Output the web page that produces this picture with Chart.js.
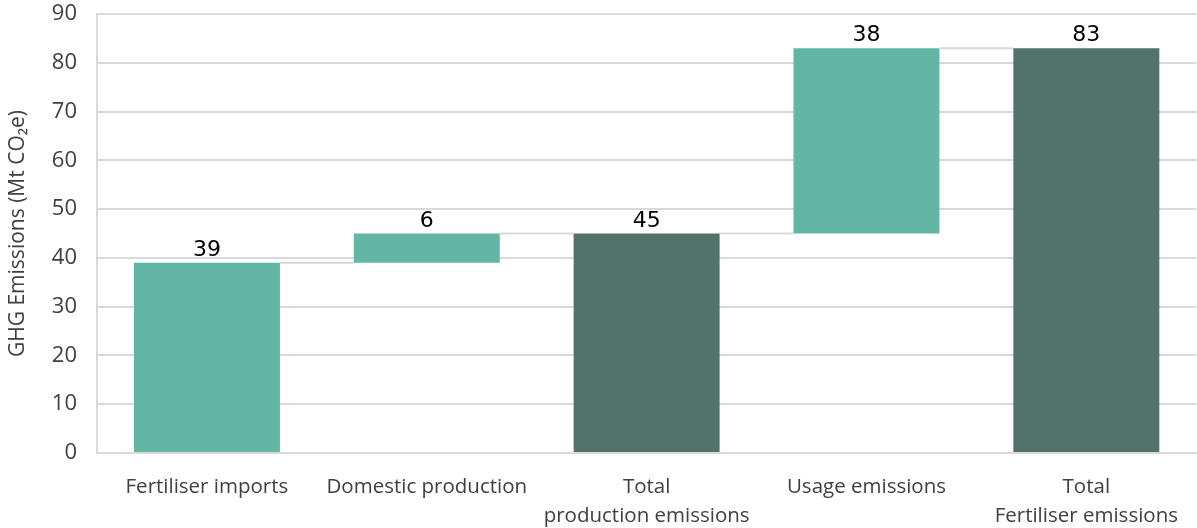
<!DOCTYPE html>
<html>
<head>
<meta charset="utf-8">
<script src="https://cdn.jsdelivr.net/npm/chart.js@4/dist/chart.umd.min.js"></script>
<style>
  html, body { margin: 0; padding: 0; background: #ffffff; }
  #wrap { width: 1197px; height: 528px; }
</style>
</head>
<body>
<div id="wrap"><canvas id="waterfall" width="1197" height="528"></canvas></div>
<script>
const categories = [
  ["Fertiliser imports"],
  ["Domestic production"],
  ["Total", "production emissions"],
  ["Usage emissions"],
  ["Total", "Fertiliser emissions"],
];
// floating bar ranges: where each bar starts and ends
const barStart = [0, 39, 0, 45, 0];
const barEnd = [39, 45, 45, 83, 83];
const isTotal = [false, false, true, false, true];
const yMin = 0;
const yMax = 90;
const yStep = 10;

const stepColor = "#62b6a4";
const totalColor = "#52736c";
const gridColor = "#d9d9d9";
const textColor = "#404040";

// thin grey lines joining the top of one bar to the next
const connectorPlugin = {
  id: "connectors",
  beforeDatasetsDraw(chart) {
    const meta = chart.getDatasetMeta(0);
    const y = chart.scales.y;
    const ctx = chart.ctx;
    ctx.save();
    ctx.strokeStyle = gridColor;
    ctx.lineWidth = 2;
    for (let i = 0; i < meta.data.length - 1; i++) {
      const bar = meta.data[i];
      const next = meta.data[i + 1];
      const level = y.getPixelForValue(Math.max(barStart[i], barEnd[i]));
      ctx.beginPath();
      ctx.moveTo(bar.x + bar.width / 2, level);
      ctx.lineTo(next.x - next.width / 2, level);
      ctx.stroke();
    }
    ctx.restore();
  },
};

// value above every bar (bar size)
const valueLabelPlugin = {
  id: "valueLabels",
  afterDatasetsDraw(chart) {
    const meta = chart.getDatasetMeta(0);
    const y = chart.scales.y;
    const ctx = chart.ctx;
    ctx.save();
    ctx.font = "22px 'DejaVu Sans', sans-serif";
    ctx.fillStyle = "#000000";
    ctx.textAlign = "center";
    ctx.textBaseline = "alphabetic";
    meta.data.forEach((bar, i) => {
      const value = barEnd[i] - barStart[i];
      const top = y.getPixelForValue(Math.max(barStart[i], barEnd[i]));
      ctx.fillText(String(value), bar.x, top - 7);
    });
    ctx.restore();
  },
};

const ctx = document.getElementById("waterfall").getContext("2d");
new Chart(ctx, {
  type: "bar",
  data: {
    labels: categories,
    datasets: [
      {
        data: barStart.map((s, i) => [s, barEnd[i]]),
        backgroundColor: isTotal.map((t) => (t ? totalColor : stepColor)),
        borderWidth: 0,
        categoryPercentage: 1,
        barPercentage: 0.664,
      },
    ],
  },
  options: {
    responsive: false,
    animation: false,
    layout: { padding: { top: 14, right: 0, bottom: 0, left: 0 } },
    plugins: {
      legend: { display: false },
      tooltip: { enabled: false },
    },
    scales: {
      x: {
        grid: { display: false, drawTicks: false },
        border: { display: true, color: gridColor, width: 2 },
        ticks: {
          color: textColor,
          font: { family: "'Open Sans', sans-serif", size: 20.5, lineHeight: 1.45 },
          padding: 19,
          maxRotation: 0,
          autoSkip: false,
        },
        afterFit: (scale) => {
          scale.height = 75;
        },
      },
      y: {
        min: yMin,
        max: yMax,
        grid: { color: gridColor, lineWidth: 2, drawTicks: false },
        border: { display: true, color: gridColor, width: 2 },
        ticks: {
          stepSize: yStep,
          color: textColor,
          font: { family: "'Open Sans', sans-serif", size: 22 },
          padding: 20,
        },
        title: {
          display: true,
          text: "GHG Emissions (Mt CO₂e)",
          color: textColor,
          font: { family: "'Open Sans', sans-serif", size: 21 },
          padding: { top: 5, bottom: 0 },
        },
        afterFit: (scale) => {
          scale.width = 97;
          scale.paddingTop = 0;
          scale.paddingBottom = 0;
        },
      },
    },
  },
  plugins: [connectorPlugin, valueLabelPlugin],
});
</script>
</body>
</html>
